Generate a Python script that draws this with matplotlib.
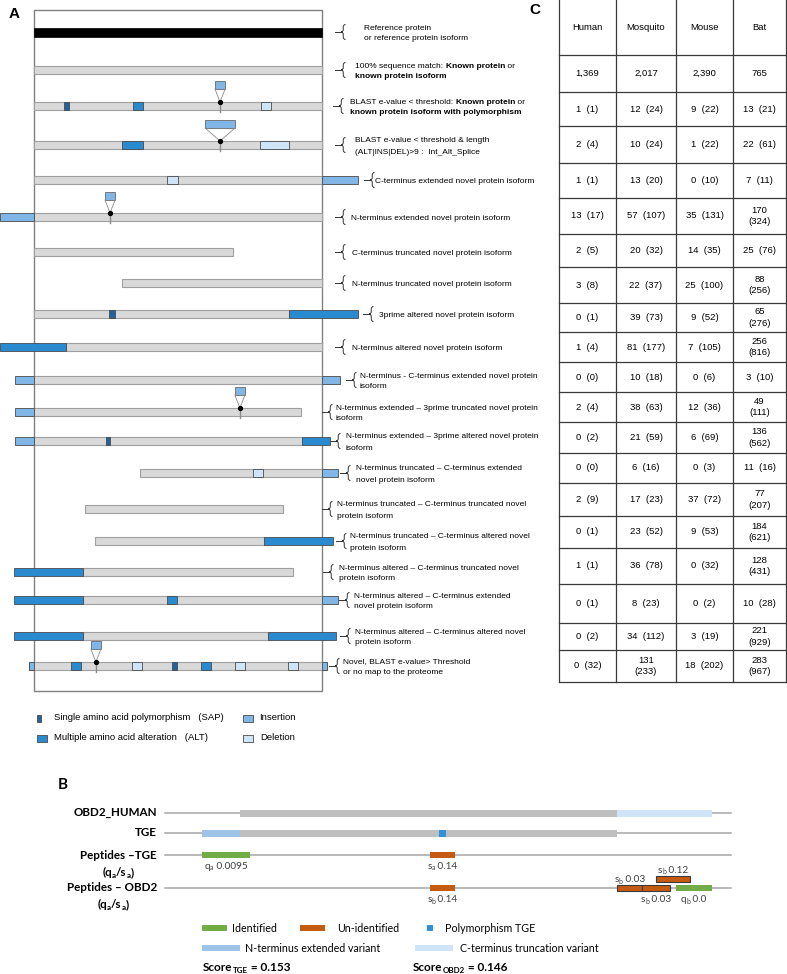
import matplotlib
matplotlib.use("Agg")
import matplotlib.pyplot as plt
from matplotlib.patches import Rectangle, PathPatch
from matplotlib.path import Path

plt.rcParams['font.family'] = ['Liberation Sans', 'DejaVu Sans']

W, H = 787, 974
fig = plt.figure(figsize=(W / 100, H / 100), dpi=100)
R = fig.canvas.get_renderer()

# ---------------- Panel A: isoform schematics (positions in % of reference length) ----------------
A_backbone = [(0, 100), (0, 100), (0, 100), (0, 100), (0, 100), (0, 100), (0, 69.1), (30.6, 100),
              (0, 88.5), (11.1, 100), (0, 100), (0, 92.7), (0, 93.0), (36.8, 100), (17.7, 86.5),
              (21.2, 79.9), (17.0, 89.9), (17.0, 100), (17.0, 81.25), (-1.7, 101.7)]
A_features = [
    [],
    [],
    [("SAP", 10.4, 12.2), ("ALT", 34.4, 37.8), ("DEL", 78.8, 82.3)],
    [("ALT", 30.6, 37.8), ("DEL", 78.5, 88.5)],
    [("DEL", 46.2, 50.0), ("INS", 100, 112.5)],
    [("INS", -11.8, 0)],
    [],
    [],
    [("SAP", 26.0, 28.1), ("ALT", 88.5, 112.5)],
    [("ALT", -11.8, 11.1)],
    [("INS", -6.6, 0), ("INS", 100, 106.3)],
    [("INS", -6.6, 0)],
    [("INS", -6.6, 0), ("SAP", 25.0, 26.4), ("ALT", 93.0, 102.8)],
    [("DEL", 76.0, 79.5), ("INS", 100, 105.6)],
    [],
    [("ALT", 79.9, 103.8)],
    [("ALT", -6.9, 17.0)],
    [("ALT", -6.9, 17.0), ("ALT", 46.2, 49.7), ("INS", 100, 105.6)],
    [("ALT", -6.9, 17.0), ("ALT", 81.25, 104.9)],
    [("INS", -1.7, 0), ("ALT", 12.8, 16.3), ("DEL", 34.0, 37.5), ("SAP", 47.9, 49.7),
     ("ALT", 58.0, 61.5), ("DEL", 69.8, 73.3), ("DEL", 88.2, 91.7), ("INS", 100, 101.7)],
]
# insertion call-outs: (position, inserted length)
A_inserts = {2: [(64.6, 3.5)], 3: [(64.6, 10.4)], 5: [(26.4, 3.5)], 11: [(71.5, 3.5)], 19: [(21.5, 3.5)]}

N, B = "normal", "bold"
A_labels = [
    [[("Reference protein", N)], [("or reference protein isoform", N)]],
    [[("100% sequence match: ", N), ("Known protein", B), (" or", N)], [("known protein isoform", B)]],
    [[("BLAST e-value < threshold: ", N), ("Known protein", B), (" or", N)],
     [("known protein isoform with polymorphism", B)]],
    [[("BLAST e-value < threshold & length", N)], [("(ALT|INS|DEL)>9 :  Int_Alt_Splice", N)]],
    [[("C-terminus extended novel protein isoform", N)]],
    [[("N-terminus extended novel protein isoform", N)]],
    [[("C-terminus truncated novel protein isoform", N)]],
    [[("N-terminus truncated novel protein isoform", N)]],
    [[("3prime altered novel protein isoform", N)]],
    [[("N-terminus altered novel protein isoform", N)]],
    [[("N-terminus - C-terminus extended novel protein", N)], [("isoform", N)]],
    [[("N-terminus extended \u2013 3prime truncated novel protein", N)], [("isoform", N)]],
    [[("N-terminus extended \u2013 3prime altered novel protein", N)], [("isoform", N)]],
    [[("N-terminus truncated \u2013 C-terminus extended", N)], [("novel protein isoform", N)]],
    [[("N-terminus truncated \u2013 C-terminus truncated novel", N)], [("protein isoform", N)]],
    [[("N-terminus truncated \u2013 C-terminus altered novel", N)], [("protein isoform", N)]],
    [[("N-terminus altered \u2013 C-terminus truncated novel", N)], [("protein isoform", N)]],
    [[("N-terminus altered \u2013 C-terminus extended", N)], [("novel protein isoform", N)]],
    [[("N-terminus altered \u2013 C-terminus altered novel", N)], [("protein isoform", N)]],
    [[("Novel, BLAST e-value> Threshold", N)], [("or no map to the proteome", N)]],
]
A_legend = [("SAP", "Single amino acid polymorphism   (SAP)"), ("ALT", "Multiple amino acid alteration   (ALT)"),
            ("INS", "Insertion"), ("DEL", "Deletion")]

# ---------------- Panel C: table ----------------
C_species = ["Human", "Mosquito", "Mouse", "Bat"]
C_human = ["1,369", "1  (1)", "2  (4)", "1  (1)", "13  (17)", "2  (5)", "3  (8)", "0  (1)", "1  (4)", "0  (0)",
           "2  (4)", "0  (2)", "0  (0)", "2  (9)", "0  (1)", "1  (1)", "0  (1)", "0  (2)", "0  (32)"]
C_mosquito = ["2,017", "12  (24)", "10  (24)", "13  (20)", "57  (107)", "20  (32)", "22  (37)", "39  (73)",
              "81  (177)", "10  (18)", "38  (63)", "21  (59)", "6  (16)", "17  (23)", "23  (52)", "36  (78)",
              "8  (23)", "34  (112)", "131\n(233)"]
C_mouse = ["2,390", "9  (22)", "1  (22)", "0  (10)", "35  (131)", "14  (35)", "25  (100)", "9  (52)", "7  (105)",
           "0  (6)", "12  (36)", "6  (69)", "0  (3)", "37  (72)", "9  (53)", "0  (32)", "0  (2)", "3  (19)",
           "18  (202)"]
C_bat = ["765", "13  (21)", "22  (61)", "7  (11)", "170\n(324)", "25  (76)", "88\n(256)", "65\n(276)",
         "256\n(816)", "3  (10)", "49\n(111)", "136\n(562)", "11  (16)", "77\n(207)", "184\n(621)",
         "128\n(431)", "10  (28)", "221\n(929)", "283\n(967)"]

# ---------------- Panel B: OBD2 example (positions in % of track) ----------------
B_tracks = ["OBD2_HUMAN", "TGE", "Peptides \u2013TGE", "Peptides \u2013 OBD2"]
B_obd2 = [(13.25, 79.9, "ref"), (79.9, 96.6, "cterm")]
B_tge = [(6.5, 13.25, "nterm"), (13.25, 79.9, "ref"), (48.4, 49.6, "poly")]
# (start, end, kind, level, label side, letter, subscript, value, edged)
B_pep_tge = [(6.5, 15.0, "id", 0, "below", "q", "a", "0.0095", False),
             (46.8, 51.2, "unid", 0, "below", "s", "a", "0.14", False)]
B_pep_obd2 = [(46.8, 51.2, "unid", 0, "below", "s", "b", "0.14", False),
              (79.9, 84.3, "unid", 0, "above", "s", "b", "0.03", True),
              (84.3, 89.2, "unid", 0, "below", "s", "b", "0.03", True),
              (86.7, 92.8, "unid", 1, "above", "s", "b", "0.12", True),
              (90.3, 96.6, "id", 0, "below", "q", "b", "0.0", False)]
B_scores = [("TGE", "0.153"), ("OBD2", "0.146")]

colA = {"ref": "black", "bar": "#d9d9d9", "SAP": "#23609e", "ALT": "#2a8ad0", "INS": "#7fb6e6", "DEL": "#cfe4f6"}
colB = {"ref": "#bfbfbf", "cterm": "#cfe4f6", "nterm": "#9dc3e6", "poly": "#2e93d9",
        "id": "#70ad47", "unid": "#c55a11", "line": "#a6a6a6"}


def text_width(s, size, weight, family):
    t1 = fig.text(0, 0, "|" + s + "|", fontsize=size, fontweight=weight, family=family)
    t2 = fig.text(0, 0, "||", fontsize=size, fontweight=weight, family=family)
    w = t1.get_window_extent(R).width - t2.get_window_extent(R).width
    t1.remove()
    t2.remove()
    return w


def rich(ax, x, y, parts, ha="left", family=None, color="black"):
    # parts: (text, weight, size, dy pixels downward); y is the baseline
    fam = family or plt.rcParams['font.family']
    widths = [text_width(s, sz, w, fam) for s, w, sz, dy in parts]
    total = sum(widths)
    dx = {"left": 0, "center": -total / 2, "right": -total}[ha]
    for (s, w, sz, dy), wd in zip(parts, widths):
        ax.annotate(s, (x, y), xytext=(dx, -dy), textcoords="offset pixels", ha="left", va="baseline",
                    fontsize=sz, fontweight=w, family=fam, color=color, annotation_clip=False)
        dx += wd


# full-figure pixel axes (panel letters, legend A, table)
axF = fig.add_axes([0, 0, 1, 1])
axF.set_xlim(0, W)
axF.set_ylim(H, 0)
axF.axis("off")

# panel A axes: x in % of reference protein, y in pixels
ax_left, ax_right = 34, 322
def ua(px):
    return (px - ax_left) / (ax_right - ax_left) * 100

axA = fig.add_axes([0, 0, 1, 1])
axA.set_xlim(ua(0), ua(W))
axA.set_ylim(H, 0)
axA.axis("off")
axA.patch.set_alpha(0)

rows_y = [32, 70, 106, 145, 180, 217, 252, 283, 314, 347, 380, 412, 441, 473, 509, 541, 572, 600, 636, 666]
brace_x = [341, 341, 339, 341, 370, 341, 341, 341, 369, 341, 352, 328, 336, 346, 328, 342, 329, 345, 346, 335]
text_x = [364, 355, 350, 355, 375, 351, 352, 352, 379, 352, 360, 336, 346, 356, 337, 350, 339, 354, 355, 343]

axA.add_patch(Rectangle((0, 10), 100, 681, fill=False, ec="#808080", lw=1.0, zorder=1))


def brace(xc, yc, h=15, w=4.5, tick=6):
    verts = [(xc + w, yc - h / 2), (xc + w / 2, yc - h / 2), (xc + w / 2, yc - h / 2 + 2.5),
             (xc + w / 2, yc - 2.5), (xc + w / 2, yc), (xc, yc),
             (xc + w / 2, yc), (xc + w / 2, yc + 2.5),
             (xc + w / 2, yc + h / 2 - 2.5), (xc + w / 2, yc + h / 2), (xc + w, yc + h / 2)]
    codes = [Path.MOVETO, Path.CURVE3, Path.CURVE3, Path.LINETO, Path.CURVE3, Path.CURVE3,
             Path.CURVE3, Path.CURVE3, Path.LINETO, Path.CURVE3, Path.CURVE3]
    verts = [(ua(px), py) for px, py in verts]
    axA.add_patch(PathPatch(Path(verts, codes), fill=False, ec="#333333", lw=0.7))
    axA.plot([ua(xc - tick), ua(xc)], [yc, yc], color="#333333", lw=0.7)


FS_A = 6.0
for i, yc in enumerate(rows_y):
    s, e = A_backbone[i]
    h = 9 if i == 0 else 8
    if i == 0:
        axA.add_patch(Rectangle((s, yc - h / 2), e - s, h, fc=colA["ref"], ec="black", lw=0.5, zorder=3))
    else:
        axA.add_patch(Rectangle((s, yc - h / 2), e - s, h, fc=colA["bar"], ec="#a0a0a0", lw=0.8, zorder=3))
    for kind, fs, fe in A_features[i]:
        axA.add_patch(Rectangle((fs, yc - h / 2), fe - fs, h, fc=colA[kind], ec="#4a4a4a", lw=0.6, zorder=4))
    for pos, ln in A_inserts.get(i, []):
        top = yc - 4
        axA.add_patch(Rectangle((pos - ln / 2, yc - 25), ln, 8, fc=colA["INS"], ec="#6a6a6a", lw=0.6, zorder=5))
        axA.plot([pos - ln / 2, pos, pos + ln / 2], [yc - 17, top, yc - 17], color="#8a8a8a", lw=0.6, zorder=5)
        axA.plot([pos, pos], [top, yc + 6], color="#8a8a8a", lw=1.0, zorder=5)
        axA.plot(pos, top, "o", color="black", ms=2.8, zorder=6)
    brace(brace_x[i], yc)
    lines = A_labels[i]
    n = len(lines)
    for j, line in enumerate(lines):
        ly = yc + (j - (n - 1) / 2) * 11 + 3
        rich(axA, ua(text_x[i]), ly, [(t, w, FS_A, 0) for t, w in line])

# legend A
leg_pos = {"SAP": (37, 718, 4), "ALT": (37, 738, 10), "INS": (243, 718, 10), "DEL": (243, 738, 10)}
leg_tx = {"SAP": 54, "ALT": 54, "INS": 259, "DEL": 260}
for kind, label in A_legend:
    lx, ly, lw_ = leg_pos[kind]
    axF.add_patch(Rectangle((lx, ly - 3.5), lw_, 7, fc=colA[kind], ec="#4a4a4a", lw=0.6))
    axF.text(leg_tx[kind], ly, label, fontsize=6.8, va="center", ha="left")

# panel letters
axF.text(9, 14, "A", fontsize=11, fontweight="bold", va="center")
axF.text(529, 10, "C", fontsize=11, fontweight="bold", va="center")
axF.text(58, 785, "B", fontsize=11, fontweight="bold", va="center", family="Lato")

# ---------------- table C ----------------
row_edges = [0, 55, 92, 126, 163, 198, 234, 267, 303, 332, 362, 392, 422, 453, 483, 516, 548, 584, 623, 650, 682]
col_edges = [559, 616, 676, 733, 786]
for x in col_edges:
    axF.plot([x, x], [0, row_edges[-1]], color="#3a3a3a", lw=0.9)
for y in row_edges[1:]:
    axF.plot([col_edges[0], col_edges[-1]], [y, y], color="#3a3a3a", lw=0.9)
columns = [C_human, C_mosquito, C_mouse, C_bat]
for c, name in enumerate(C_species):
    cx = (col_edges[c] + col_edges[c + 1]) / 2
    axF.text(cx, (row_edges[0] + row_edges[1]) / 2, name, ha="center", va="center", fontsize=6.8)
    for r, val in enumerate(columns[c]):
        cy = (row_edges[r + 1] + row_edges[r + 2]) / 2
        axF.text(cx, cy, val, ha="center", va="center", fontsize=6.8, linespacing=1.4)

# ---------------- panel B ----------------
bx0, bx1 = 165, 731
def ub(px):
    return (px - bx0) / (bx1 - bx0) * 100

axB = fig.add_axes([0, 0, 1, 1])
axB.set_xlim(ub(0), ub(W))
axB.set_ylim(H, 0)
axB.axis("off")
axB.patch.set_alpha(0)

FB = "Lato"
track_y = [813, 833, 855, 888]
for yv in track_y:
    axB.plot([0, 100], [yv, yv], color=colB["line"], lw=1.1, zorder=1)

for s, e, kind in B_obd2:
    axB.add_patch(Rectangle((s, track_y[0] - 3.5), e - s, 7, fc=colB[kind], ec="none", zorder=2))
for s, e, kind in B_tge:
    axB.add_patch(Rectangle((s, track_y[1] - 3.5), e - s, 7, fc=colB[kind], ec="none",
                            zorder=3 if kind == "poly" else 2))


def peptides(items, yv):
    for s, e, kind, lev, side, let, sub, val, edged in items:
        yb = yv - 9 * lev
        axB.add_patch(Rectangle((s, yb - 3), e - s, 6, fc=colB[kind],
                                ec="#3a3a3a" if edged else "none", lw=0.8, zorder=3))
        ly = yb + 14 if side == "below" else yb - 6
        rich(axB, (s + e) / 2, ly, [(let, N, 7.2, 0), (sub, N, 5.0, 1.5), (" " + val, N, 7.2, 0)],
             ha="center", family=FB, color="#404040")


peptides(B_pep_tge, track_y[2])
peptides(B_pep_obd2, track_y[3])

# track labels (right aligned)
lab_x = ub(157)
FSL = 8.4
rich(axB, lab_x, 816, [(B_tracks[0], B, FSL, 0)], ha="right", family=FB)
rich(axB, lab_x, 836, [(B_tracks[1], B, FSL, 0)], ha="right", family=FB)
rich(axB, lab_x, 859, [(B_tracks[2], B, FSL, 0)], ha="right", family=FB)
qs = [("(q", B, FSL, 0), ("a", B, 5.8, 2), ("/s", B, FSL, 0), ("a", B, 5.8, 2), (")", B, FSL, 0)]
rich(axB, ub(118), 876, qs, ha="center", family=FB)
rich(axB, lab_x, 891, [(B_tracks[3], B, FSL, 0)], ha="right", family=FB)
rich(axB, ub(113), 908, qs, ha="center", family=FB)

# legend B
B_legend = [("id", 202, 227, 928, "Identified", 232), ("unid", 300, 325, 928, "Un-identified", 337),
            ("nterm", 202, 240, 948, "N-terminus extended variant", 245),
            ("cterm", 415, 453, 948, "C-terminus truncation variant", 460)]
for kind, x0, x1, yv, label, tx in B_legend:
    axB.add_patch(Rectangle((ub(x0), yv - 3), ub(x1) - ub(x0), 6, fc=colB[kind], ec="none"))
    rich(axB, ub(tx), yv + 3.5, [(label, N, 7.7, 0)], family=FB)
axB.add_patch(Rectangle((ub(427), 925), ub(433) - ub(427), 6, fc=colB["poly"], ec="none"))
rich(axB, ub(445), 931.5, [("Polymorphism TGE", N, 7.7, 0)], family=FB)

for (name, val), sx in zip(B_scores, [203, 413]):
    rich(axB, ub(sx), 971, [("Score", B, 8.5, 0), (name, B, 5.8, 2), (" = " + val, B, 8.5, 0)], family=FB)

fig.savefig("out.png", dpi=100)
